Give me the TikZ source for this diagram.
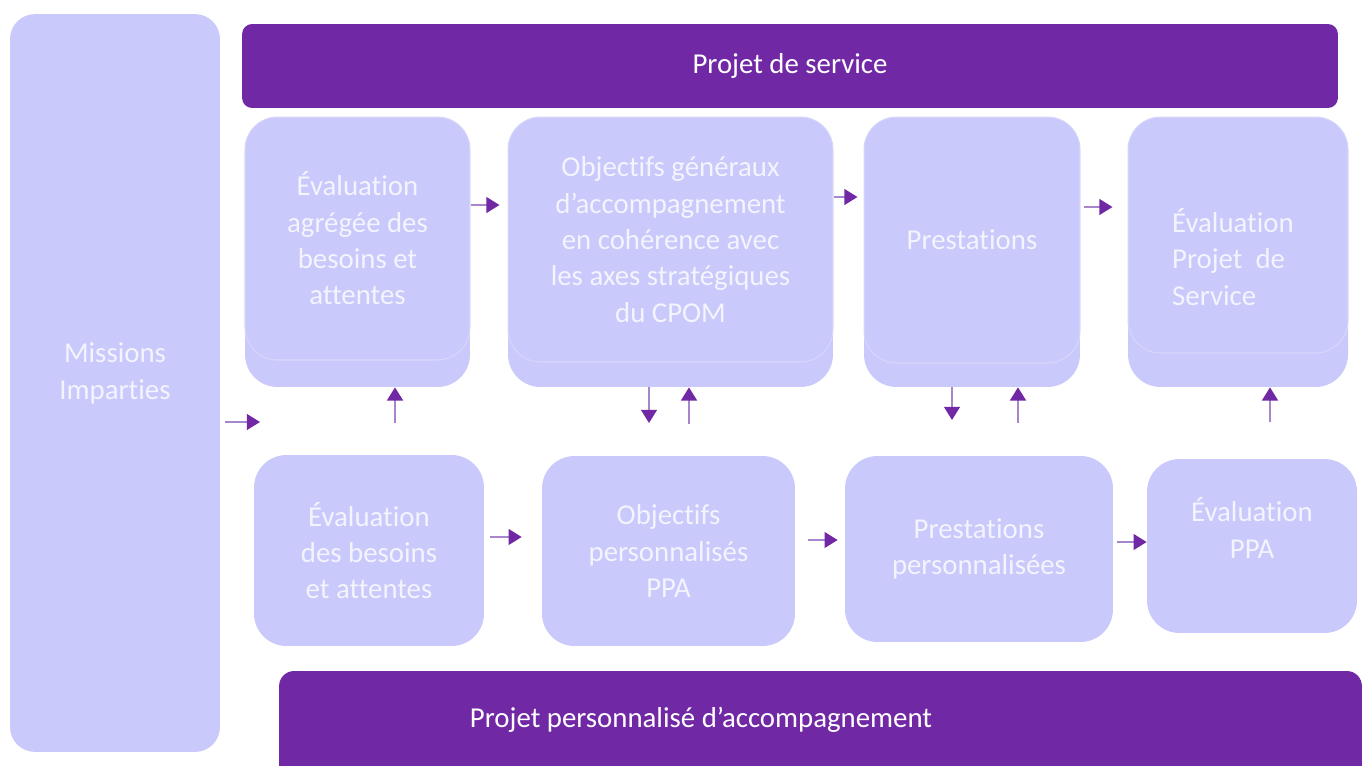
\documentclass[tikz,border=0pt]{standalone}
\usepackage{fontspec}
\setmainfont{Carlito}[Ligatures=NoCommon]
\usepackage{tikz}
\usetikzlibrary{positioning,arrows.meta}

\definecolor{lilas}{HTML}{C9C9FB}
\definecolor{lilasline}{HTML}{D7D7FC}
\definecolor{violetbar}{HTML}{7128A5}
\definecolor{flowline}{HTML}{A886CE}
\definecolor{boxtxt}{HTML}{F4F4FF}

\begin{document}
\begin{tikzpicture}[x=0.02cm, y=-0.02cm,
	boxtext/.style={text=boxtxt, align=center, font=\fontsize{16.4}{20.7}\selectfont},
	layer/.style={fill=lilas, rounded corners=0.65cm, inner sep=0pt},
	front/.style={layer, draw=lilasline, line width=0.6pt, boxtext},
	bar/.style={fill=violetbar, text=white, inner sep=0pt, font=\fontsize{16.4}{20.7}\selectfont},
	flow/.style={draw=flowline, line width=1.1pt, -{Triangle[width=9pt,length=7.5pt,color=violetbar]}}
	]
	
	\path[use as bounding box, clip] (0,0) rectangle (1368,765);
	
	% Missions
	\node [layer,
	rounded corners=0.5cm,
	minimum width=4.2cm,
	minimum height=14.76cm,
	boxtext,
	font=\fontsize{16.4}{21.5}\selectfont
	] (missions) at (115,383) {Missions\\Imparties\\[-0.28cm]};
	
	% Projet de service
	\node [bar,
	rounded corners=0.2cm,
	minimum width=21.92cm,
	minimum height=1.68cm
	] (projserv) at (790,66) {Projet de service};
	
	% Projet personnalise
	\node [bar,
	rounded corners=0.3cm,
	minimum width=21.66cm,
	minimum height=2.58cm
	] (projpersbar) at (820.5,735.5) {};
	\node [text=white, font=\fontsize{16.4}{20.7}\selectfont] (projpers) at (701,720) {Projet personnalisé d’accompagnement};
	
	% top row, back layers
	\node [layer, minimum width=4.5cm, minimum height=5.4cm] (evalagrB) at (357.5,252) {};
	\node [layer, minimum width=6.5cm, minimum height=5.4cm] (objgenB) at (670.5,252) {};
	\node [layer, minimum width=4.32cm, minimum height=5.4cm] (prestB) at (972,252) {};
	\node [layer, minimum width=4.4cm, minimum height=5.4cm] (evalservB) at (1238,252) {};
	
	% top row, front layers
	\node [front,
	minimum width=4.5cm,
	minimum height=4.86cm
	] (evalagr) at (357.5,238.5) {Évaluation\\agrégée des\\besoins et\\attentes};
	
	\node [front,
	minimum width=6.5cm,
	minimum height=4.9cm
	] (objgen) at (670.5,239.5) {Objectifs généraux\\d’accompagnement\\en cohérence avec\\les axes stratégiques\\du CPOM};
	
	\node [front,
	minimum width=4.32cm,
	minimum height=4.92cm
	] (prest) at (972,240) {Prestations};
	
	\node [front,
	minimum width=4.4cm,
	minimum height=4.72cm
	] (evalserv) at (1238,235) {};
	\node [boxtext, align=left] (evalservtxt) at (1233,257) {Évaluation\\Projet~ de\\Service};
	
	% bottom row
	\node [layer, boxtext,
	minimum width=4.6cm,
	minimum height=3.82cm
	] (evalbes) at (369,550.5) {Évaluation\\des besoins\\et attentes};
	
	\node [layer, boxtext,
	minimum width=5.06cm,
	minimum height=3.8cm
	] (objpers) at (668.5,551) {Objectifs\\personnalisés\\PPA};
	
	\node [layer, boxtext,
	minimum width=5.36cm,
	minimum height=3.72cm
	] (prestpers) at (979,549) {Prestations\\personnalisées};
	
	\node [layer, boxtext,
	minimum width=4.2cm,
	minimum height=3.48cm
	] (evalppa) at (1252,546) {Évaluation\\PPA\\[0pt]};
	
	% horizontal arrows
	\coordinate (missend) at (260,422);
	\draw[flow, shorten <=0.1cm] (missions.east |- missend) -- (missend);
	
	\draw[flow, shorten >=0.16cm] (evalagr.east |- 0,205) -- (objgen.west |- 0,205);
	\draw[flow, shorten >=0.12cm] (objgen.east |- 0,197) -- (prest.west |- 0,197);
	\draw[flow, shorten <=0.06cm, shorten >=0.3cm] (prest.east |- 0,207) -- (evalserv.west |- 0,207);
	
	\draw[flow, shorten <=0.12cm, shorten >=0.4cm] (evalbes.east |- 0,537) -- (objpers.west |- 0,537);
	\draw[flow, shorten <=0.26cm, shorten >=0.14cm] (objpers.east |- 0,540) -- (prestpers.west |- 0,540);
	\draw[flow, shorten <=0.08cm] (prestpers.east |- 0,542) -- (evalppa.west |- 0,542);
	
	% vertical arrows
	\coordinate (up1) at (395,423);
	\coordinate (dn2) at (649,423);
	\coordinate (up2) at (689,424);
	\coordinate (dn3) at (952,420);
	\coordinate (up3) at (1018,423);
	\coordinate (up4) at (1270,422);
	
	\draw[flow] (up1) -- (up1 |- evalagrB.south);
	\draw[flow] (dn2 |- objgenB.south) -- (dn2);
	\draw[flow] (up2) -- (up2 |- objgenB.south);
	\draw[flow] (dn3 |- prestB.south) -- (dn3);
	\draw[flow] (up3) -- (up3 |- prestB.south);
	\draw[flow] (up4) -- (up4 |- evalservB.south);
	
\end{tikzpicture}
\end{document}
